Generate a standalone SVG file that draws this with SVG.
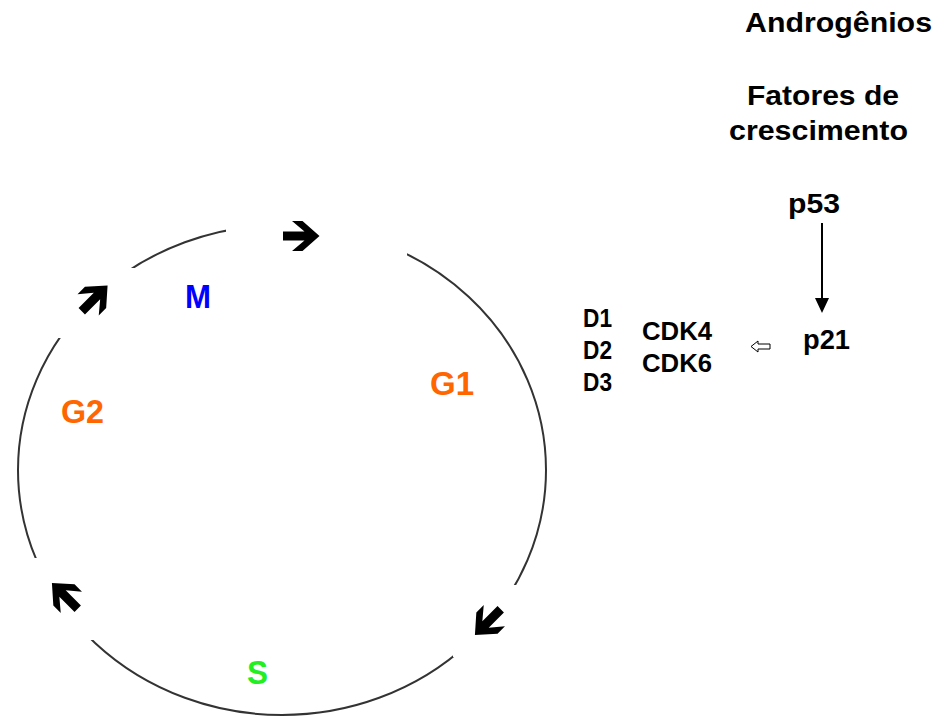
<svg xmlns="http://www.w3.org/2000/svg" width="944" height="717" viewBox="0 0 944 717">
<style>
text{font-family:"Liberation Sans",Arial,sans-serif;font-weight:bold;fill:#000}
.lbl{font-size:27px}
.sm{font-size:25px}
.ph{font-size:34px}
.cover{fill:#fff;stroke:none}
.blk{fill:#000}
</style>
<defs>
<path id="barrow" d="M-18,-4.5 H3.5 L-9,-15 H1.5 L18.5,0 L1.5,15 H-9 L3.5,4.5 H-18 Z"/>
</defs>
<rect width="944" height="717" fill="#fff"/>
<g id="cycle">
<ellipse cx="282" cy="470" rx="264" ry="245" fill="none" stroke="#333" stroke-width="2"/>
<rect class="cover" x="226" y="205" width="181" height="62"/>
<rect class="cover" x="58" y="268" width="90" height="70"/>
<rect class="cover" x="28" y="558" width="110" height="82"/>
<rect class="cover" x="453" y="585" width="137" height="72"/>
</g>
<g id="arrows-cycle">
<use href="#barrow" class="blk" transform="translate(301,236)"/>
<use href="#barrow" class="blk" transform="translate(94.5,298.5) rotate(-45)"/>
<use href="#barrow" class="blk" transform="translate(65,596) rotate(-135)"/>
<use href="#barrow" class="blk" transform="translate(488,622) rotate(135)"/>
</g>
<g id="phase-M"><text class="ph" x="185" y="308" style="fill:#0000ff" textLength="26" lengthAdjust="spacingAndGlyphs">M</text></g>
<g id="phase-G1"><text class="ph" x="430" y="395" style="fill:#ff6600" textLength="44" lengthAdjust="spacingAndGlyphs">G1</text></g>
<g id="phase-G2"><text class="ph" x="61" y="423" style="fill:#ff6600" textLength="43" lengthAdjust="spacingAndGlyphs">G2</text></g>
<g id="phase-S"><text class="ph" x="247" y="684" style="fill:#22ee22" textLength="21" lengthAdjust="spacingAndGlyphs">S</text></g>
<g id="androgenios"><text class="lbl" x="745" y="32" textLength="187" lengthAdjust="spacingAndGlyphs">Androgênios</text></g>
<g id="fatores">
<text class="lbl" x="747" y="105" textLength="152" lengthAdjust="spacingAndGlyphs">Fatores de</text>
<text class="lbl" x="729" y="140" textLength="179" lengthAdjust="spacingAndGlyphs">crescimento</text>
</g>
<g id="p53"><text class="lbl" x="788" y="213" textLength="52" lengthAdjust="spacingAndGlyphs">p53</text></g>
<g id="p21"><text class="lbl" x="803" y="349" textLength="47" lengthAdjust="spacingAndGlyphs">p21</text></g>
<g id="cyclins">
<text class="sm" x="583" y="327" textLength="29" lengthAdjust="spacingAndGlyphs">D1</text>
<text class="sm" x="583" y="359" textLength="29" lengthAdjust="spacingAndGlyphs">D2</text>
<text class="sm" x="583" y="391" textLength="29" lengthAdjust="spacingAndGlyphs">D3</text>
</g>
<g id="cdks">
<text class="sm" x="642" y="340" textLength="70" lengthAdjust="spacingAndGlyphs">CDK4</text>
<text class="sm" x="642" y="372" textLength="70" lengthAdjust="spacingAndGlyphs">CDK6</text>
</g>
<g id="connectors">
<line x1="822" y1="223" x2="822" y2="300" stroke="#000" stroke-width="2"/>
<polygon points="815,298 829,298 822,313" fill="#000"/>
<polygon points="751,346.5 758,341 758,344 770,344 770,349 758,349 758,352" fill="#fff" stroke="#000" stroke-width="1"/>
</g>
</svg>
